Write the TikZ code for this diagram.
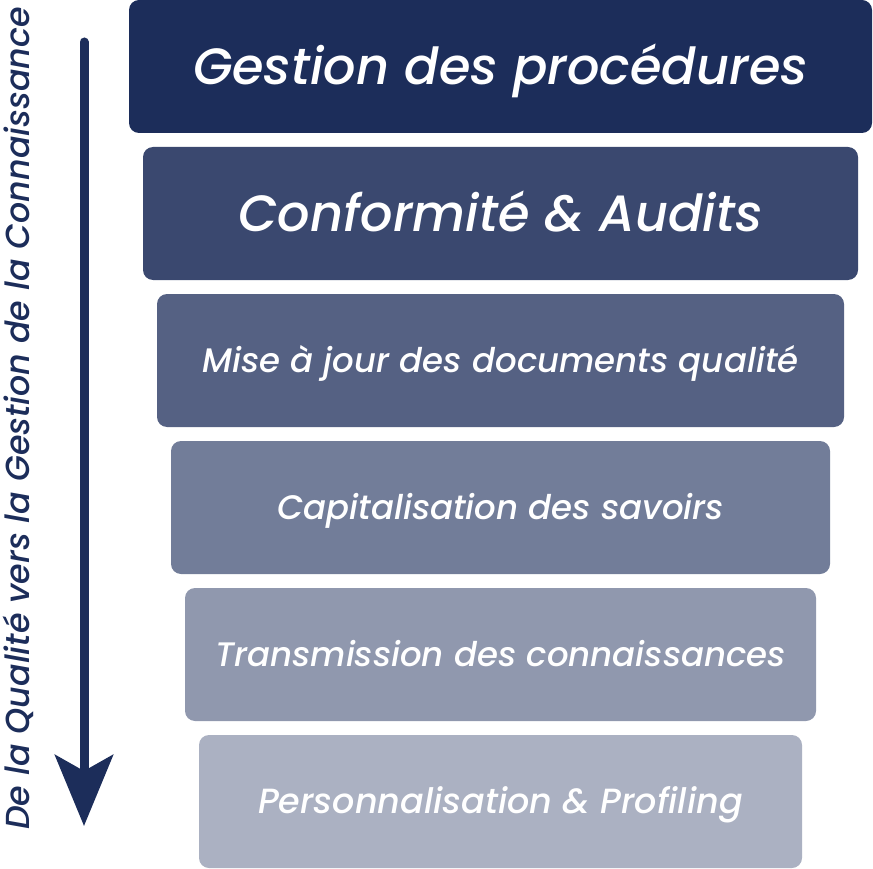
\documentclass[tikz,border=0pt]{standalone}
\usepackage{fontspec}
\newfontfamily\pf{Poppins Medium Italic}
\usetikzlibrary{arrows.meta}
\definecolor{nav}{HTML}{1C2D5A}
\begin{document}
\begin{tikzpicture}[x=1pt,y=-1pt,
  box/.style={rounded corners=10pt, inner sep=0pt, minimum height=133pt, text=white},
  big/.style={font=\pf\fontsize{51}{54}\selectfont, text height=36pt, text depth=0pt},
  small/.style={font=\pf\fontsize{34}{36}\selectfont, text height=24pt, text depth=0pt}]
\useasboundingbox (0,0) rectangle (873,869);
\node[box, big, fill=nav,       minimum width=743pt] (b1) at (500.5,66.5) {Gestion des procédures};
\node[box, big, fill=nav!87,    minimum width=715pt] (b2) at (500.5,213.5) {Conformité \& Audits};
\node[box, small, fill=nav!75,  minimum width=687pt] (b3) at (500.5,360.5) {Mise à jour des documents qualité};
\node[box, small, fill=nav!62,  minimum width=659pt] (b4) at (500.5,507.5) {Capitalisation des savoirs};
\node[box, small, fill=nav!49,  minimum width=631pt] (b5) at (500.5,654.5) {Transmission des connaissances};
\node[box, small, fill=nav!37,  minimum width=603pt, font=\pf\fontsize{35}{37}\selectfont] (b6) at (500.5,801.5) {Personnalisation \& Profiling};
\coordinate (as) at (84,42);
\coordinate (ae) at (84,826);
\draw[nav, line width=9pt, line cap=round, -{Stealth[length=71pt, width=58pt, inset=16pt]}] (as) -- (ae);
\node[rotate=90, text=nav, inner sep=0pt, font=\pf\fontsize{33.3}{35}\selectfont, text height=23pt, text depth=0pt] (vt) at (18,418.5) {De la Qualité vers la Gestion de la Connaissance};
\end{tikzpicture}
\end{document}
